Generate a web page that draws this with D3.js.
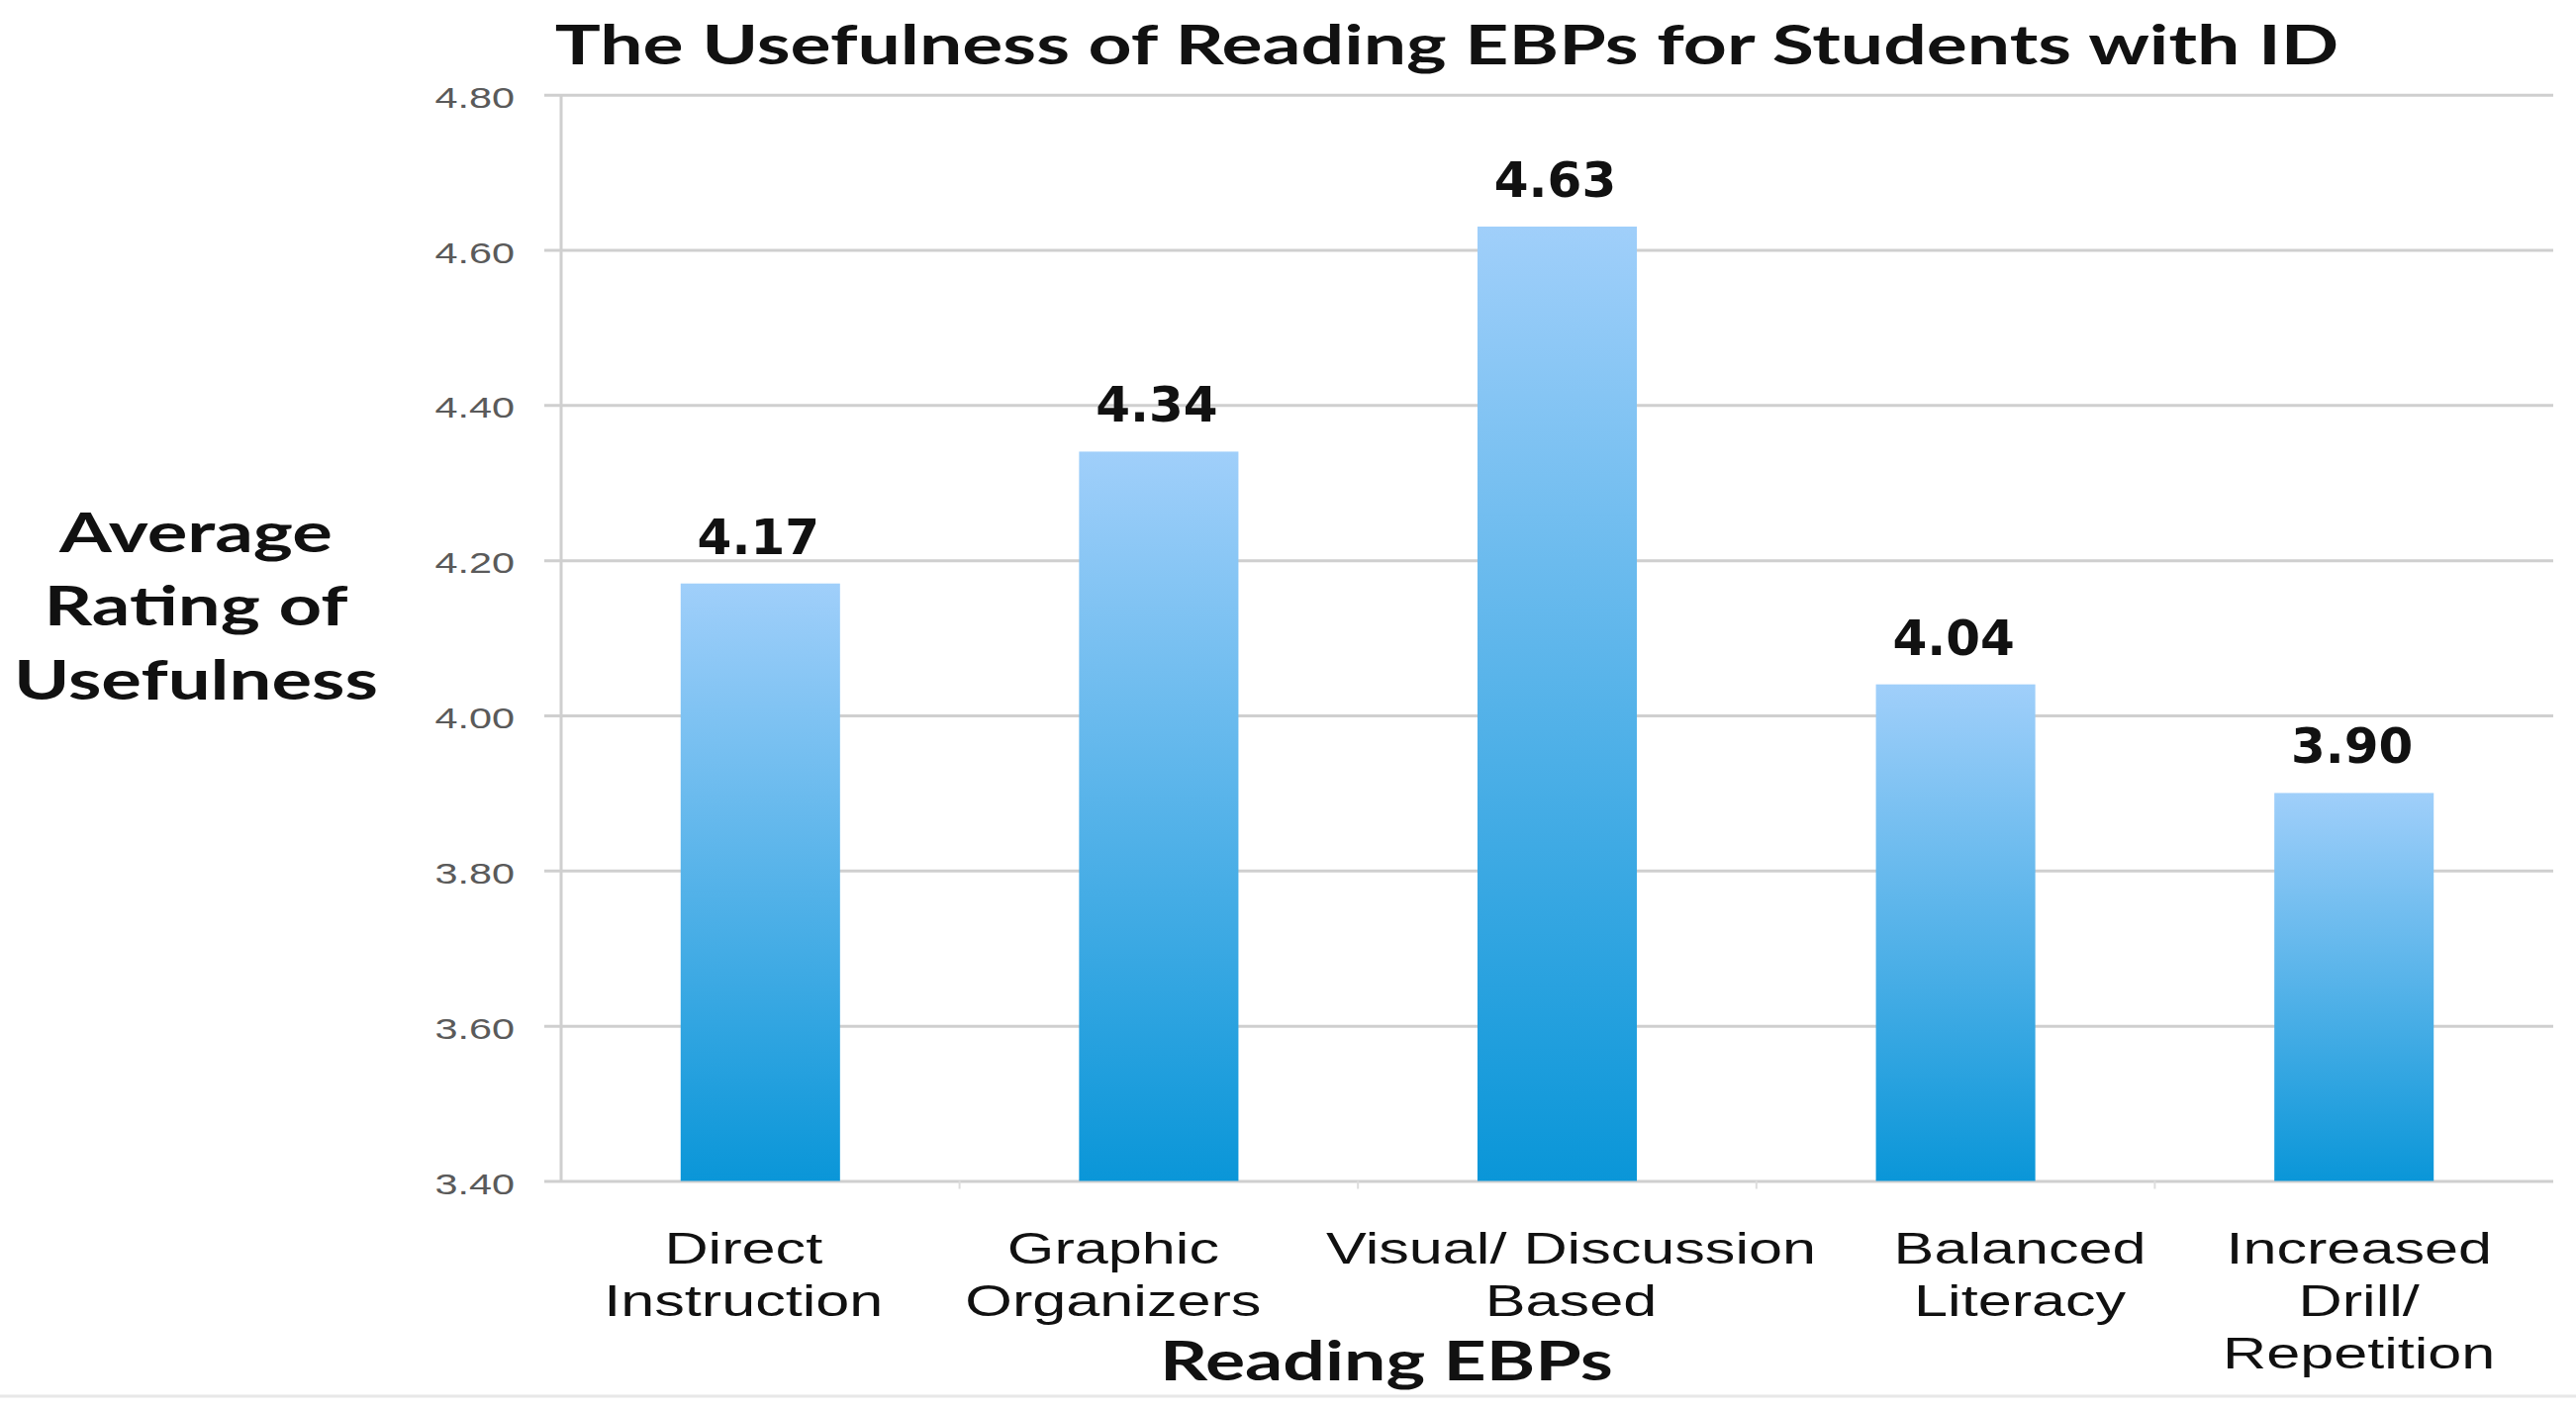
<!DOCTYPE html>
<html>
<head>
<meta charset="utf-8">
<script src="https://cdn.jsdelivr.net/npm/d3@7"></script>
<style>
  body { margin: 0; background: #fff; }
</style>
</head>
<body>
<svg id="chart" width="2603" height="1425"></svg>
<script>
var categories = ['Direct Instruction', 'Graphic Organizers', 'Visual/ Discussion Based', 'Balanced Literacy', 'Increased Drill/ Repetition']
var labelLines = [['Direct', 'Instruction'], ['Graphic', 'Organizers'], ['Visual/ Discussion', 'Based'], ['Balanced', 'Literacy'], ['Increased', 'Drill/', 'Repetition']]
var ratings = [4.17, 4.34, 4.63, 4.04, 3.90]
var yTicks = [3.40, 3.60, 3.80, 4.00, 4.20, 4.40, 4.60, 4.80]

var title = 'The Usefulness of Reading EBPs for Students with ID'
var yTitle = ['Average', 'Rating of', 'Usefulness']
var xTitle = 'Reading EBPs'

// layout (the source picture is stretched sideways, so text gets a scale(sx,1))
var plotL = 567, plotR = 2580, plotT = 95.7, plotB = 1193.5
var labelDx = [-17, -46, 14, 65, 5]
var catSx = 1.39, tickSx = 1.38
var headFont = 'Lato, "Open Sans", sans-serif'

var svg = d3.select('#chart')
svg.append('rect').attr('width', 2603).attr('height', 1425).attr('fill', '#fff')

var grad = svg.append('defs').append('linearGradient')
  .attr('id', 'barFill').attr('x1', 0).attr('y1', 0).attr('x2', 0).attr('y2', 1)
grad.append('stop').attr('offset', '0%').attr('stop-color', '#a0cffa')
grad.append('stop').attr('offset', '100%').attr('stop-color', '#0a96d8')

var x = d3.scaleBand().domain(categories).range([plotL, plotR]).padding(0)
var y = d3.scaleLinear().domain([3.4, 4.8]).range([plotB, plotT])
var barW = x.bandwidth() * 0.4

// gridlines + tick labels
var yAxis = svg.append('g')
  .attr('transform', 'translate(' + (plotL - 17) + ',0)')
  .call(d3.axisLeft(y).tickValues(yTicks).tickFormat(d3.format('.2f'))
    .tickSize(-(plotR - plotL + 17)).tickPadding(30))
yAxis.select('.domain').remove()
yAxis.selectAll('.tick line').attr('stroke', '#cfcfcf').attr('stroke-width', 3)
yAxis.selectAll('.tick text')
  .attr('font-family', '"Liberation Sans", Arial, sans-serif')
  .attr('font-size', 30)
  .attr('fill', '#5a5a5a')
  .attr('x', -30 / tickSx)
  .attr('dy', '0.42em')
  .attr('transform', 'scale(' + tickSx + ',1)')

// vertical axis line
svg.append('line')
  .attr('x1', plotL).attr('x2', plotL).attr('y1', plotT).attr('y2', plotB)
  .attr('stroke', '#cfcfcf').attr('stroke-width', 3)

// faint category dividers under the baseline
svg.append('g').selectAll('line')
  .data(categories.slice(1))
  .enter().append('line')
  .attr('x1', function(d) { return x(d) }).attr('x2', function(d) { return x(d) })
  .attr('y1', plotB).attr('y2', plotB + 8)
  .attr('stroke', '#dddddd').attr('stroke-width', 2)

// bars
svg.append('g').selectAll('rect')
  .data(ratings)
  .enter().append('rect')
  .attr('x', function(d, i) { return x(categories[i]) + (x.bandwidth() - barW) / 2 })
  .attr('y', function(d) { return y(d) })
  .attr('width', barW)
  .attr('height', function(d) { return y(3.4) - y(d) })
  .attr('fill', 'url(#barFill)')

// value labels
svg.append('g').selectAll('text')
  .data(ratings)
  .enter().append('text')
  .attr('x', function(d, i) { return x(categories[i]) + x.bandwidth() / 2 - 2 })
  .attr('y', function(d) { return y(d) - 30 })
  .attr('text-anchor', 'middle')
  .attr('font-family', '"DejaVu Sans", Verdana, sans-serif')
  .attr('font-weight', 'bold')
  .attr('font-size', 50)
  .attr('fill', '#111')
  .text(function(d) { return d3.format('.2f')(d) })

// category labels
var cat = svg.append('g').selectAll('g')
  .data(categories)
  .enter().append('g')
  .attr('transform', function(d, i) {
    return 'translate(' + (x(d) + x.bandwidth() / 2 + labelDx[i]) + ',1277)'
  })
cat.append('text')
  .attr('text-anchor', 'middle')
  .attr('font-family', '"Liberation Sans", Arial, sans-serif')
  .attr('font-size', 44)
  .attr('fill', '#111')
  .attr('transform', 'scale(' + catSx + ',1)')
  .each(function(d, i) {
    var t = d3.select(this)
    labelLines[i].forEach(function(line, j) {
      t.append('tspan').attr('x', 0).attr('y', j * 53).text(line)
    })
  })

// stretch a text so its box is the given width
function fitWidth(sel, w) {
  var bw = sel.node().getBBox().width
  sel.attr('transform', 'scale(' + (w / bw) + ',1)')
}

// chart title
var tg = svg.append('g').attr('transform', 'translate(1462,65)')
var tt = tg.append('text')
  .attr('text-anchor', 'middle')
  .attr('font-family', headFont).attr('font-weight', 'bold')
  .attr('font-size', 56).attr('fill', '#111')
  .text(title)
fitWidth(tt, 1803)

// y title
var yg = svg.append('g').attr('transform', 'translate(198,558)')
var yt = yg.append('text')
  .attr('text-anchor', 'middle')
  .attr('font-family', headFont).attr('font-weight', 'bold')
  .attr('font-size', 56).attr('fill', '#111')
yTitle.forEach(function(line, j) {
  yt.append('tspan').attr('x', 0).attr('y', j * 74.5).text(line)
})
fitWidth(yt, 368)

// x title
var xg = svg.append('g').attr('transform', 'translate(1401,1395)')
var xt = xg.append('text')
  .attr('text-anchor', 'middle')
  .attr('font-family', headFont).attr('font-weight', 'bold')
  .attr('font-size', 56).attr('fill', '#111')
  .text(xTitle)
fitWidth(xt, 458)

// faint frame edge at the bottom
svg.append('line')
  .attr('x1', 0).attr('x2', 2603).attr('y1', 1411).attr('y2', 1411)
  .attr('stroke', '#e8e8e8').attr('stroke-width', 3)
</script>
</body>
</html>
